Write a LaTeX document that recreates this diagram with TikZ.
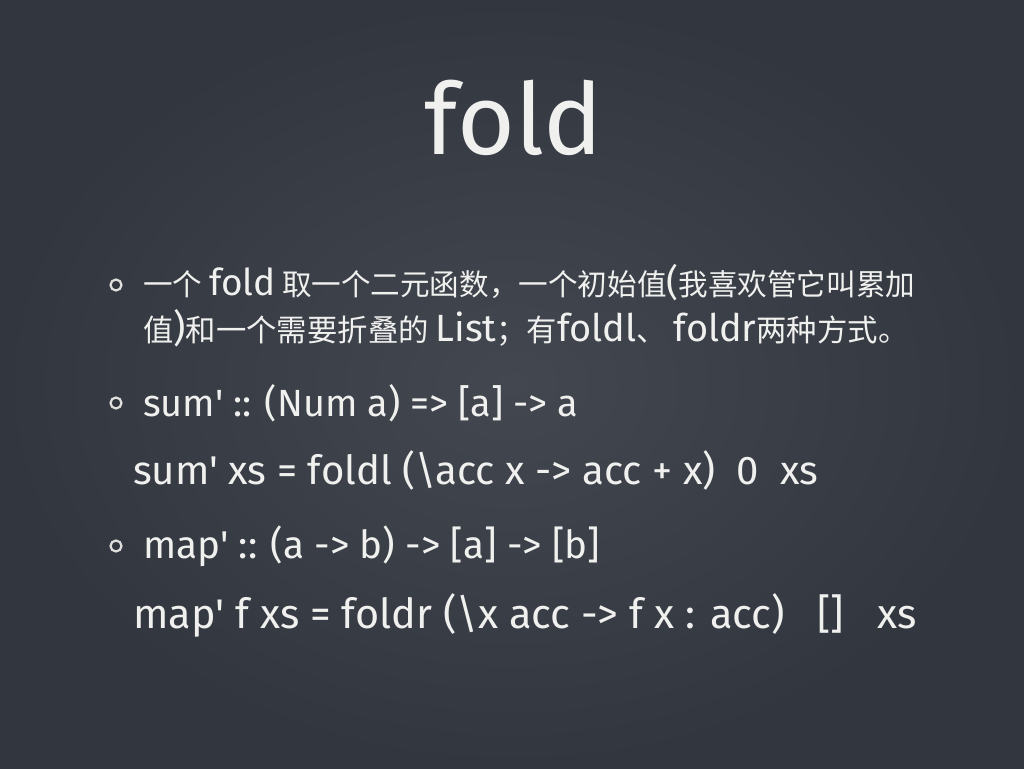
\documentclass[tikz,border=0pt]{standalone}
\usepackage{fontspec}
\setmainfont{Fira Sans}
\newfontfamily\cjk{Noto Sans CJK SC}
\newfontfamily\lat{Fira Sans}
\newcommand{\latw}[1]{{\lat\fontsize{12.5pt}{14pt}\selectfont #1}}
\definecolor{boardlight}{RGB}{66,71,80}
\definecolor{boarddark}{RGB}{50,55,63}
\definecolor{chalk}{RGB}{240,240,238}
\begin{document}
\begin{tikzpicture}[x=1pt,y=-1pt,
  txt/.style={anchor=west,inner sep=0pt,text=chalk},
  bul/.style={circle,draw=chalk!85!gray,fill=boarddark,line width=2.2pt,inner sep=0pt,minimum size=11pt}]
\shade[inner color=boardlight,outer color=boarddark] (0,0) rectangle (1024,768);
\useasboundingbox (0,0) rectangle (1024,768);
\node[inner sep=0pt,text=chalk] (title) at (514,118) {\resizebox{178pt}{!}{\lat fold}};
\node[bul] (b1) at (116,285) {};
\node[txt] (l1) at (143,283) {\resizebox{772pt}{!}{\cjk 一个 \latw{fold} 取一个二元函数，一个初始值\latw{(}我喜欢管它叫累加}};
\node[txt] (l2) at (143,328) {\resizebox{765pt}{!}{\cjk 值\latw{)}和一个需要折叠的 \latw{List}；有\latw{foldl}、 \latw{foldr}两种方式。}};
\node[bul] (b2) at (116,403) {};
\node[txt] (s1) at (143,403) {\resizebox{435pt}{!}{\lat sum' :: (Num a) => [a] -> a}};
\node[txt] (s2) at (133,470) {\resizebox{685pt}{!}{\lat sum' xs = foldl (\textbackslash acc x -> acc + x)\ \ 0\ \ xs}};
\node[bul] (b3) at (116,546) {};
\node[txt] (m1) at (143,546) {\resizebox{457pt}{!}{\lat map' :: (a -> b) -> [a] -> [b]}};
\node[txt] (m2) at (133,615) {\resizebox{783pt}{!}{\lat map' f xs = foldr (\textbackslash x acc -> f x : acc)\ \ \ []\ \ \ xs}};
\end{tikzpicture}
\end{document}
